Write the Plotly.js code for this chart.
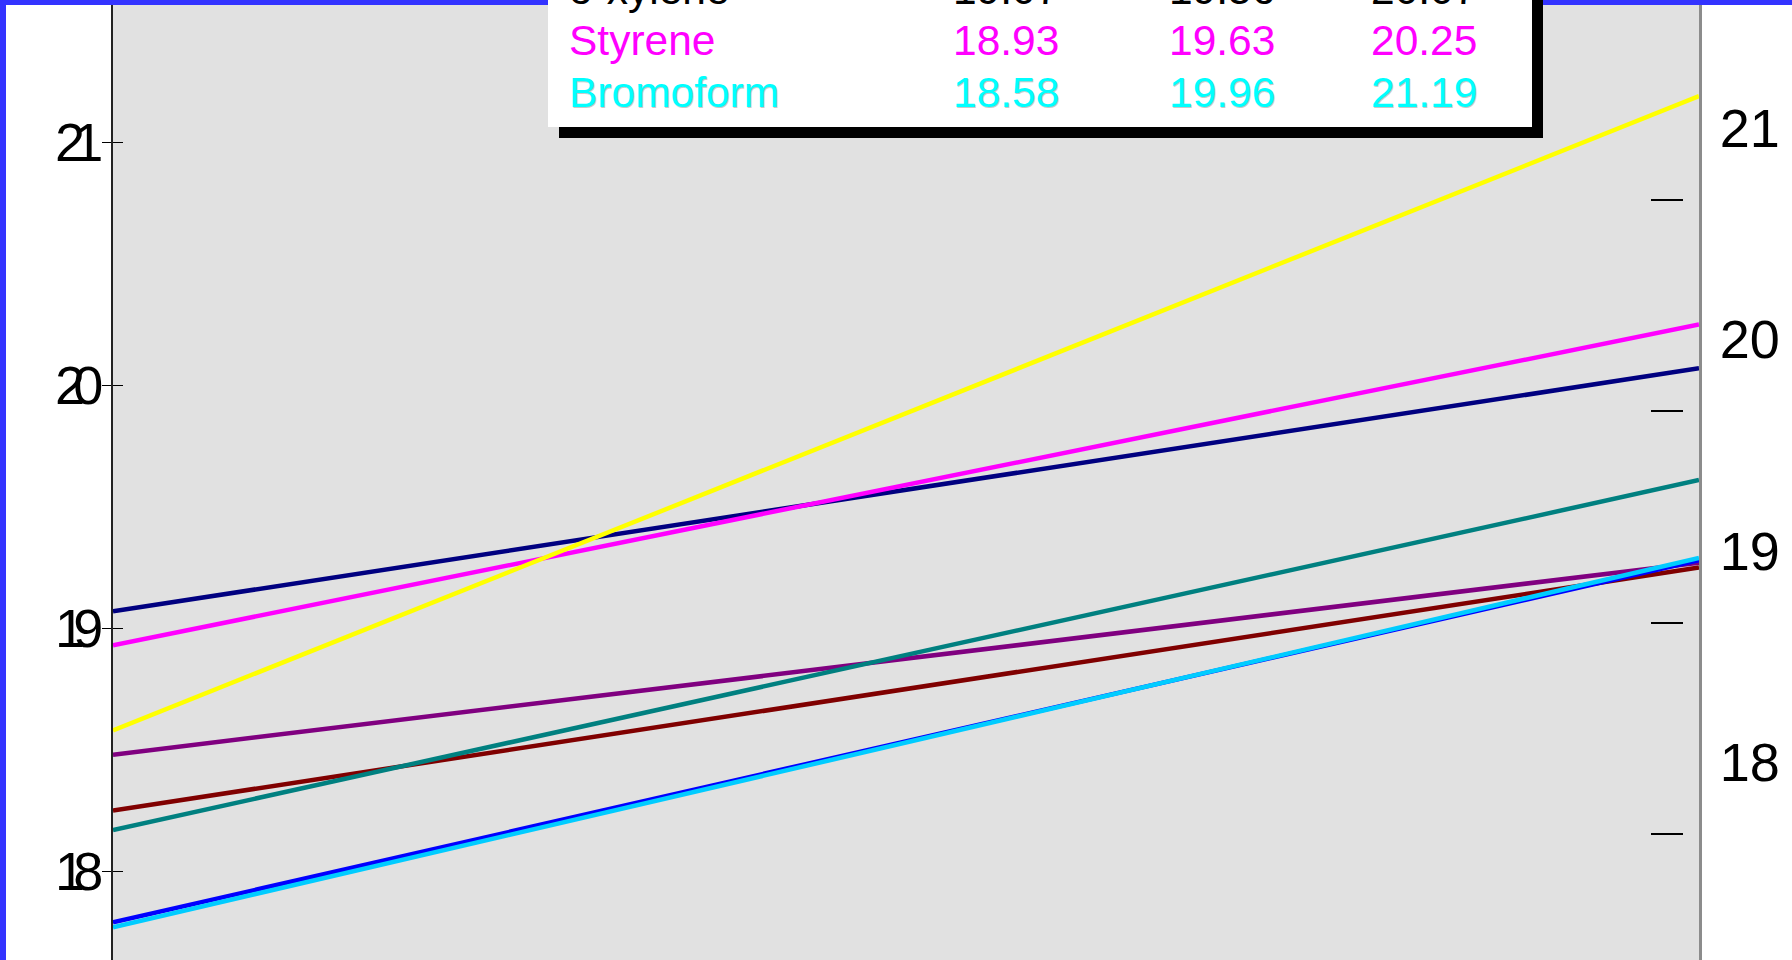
<!DOCTYPE html>
<html>
<head>
<meta charset="utf-8">
<script src="https://cdn.plot.ly/plotly-3.0.1.min.js"></script>
<style>
html, body { margin: 0; padding: 0; background: #ffffff; overflow: hidden; }
#chart { width: 1792px; height: 960px; }
#chart .ytick text { letter-spacing: -12px; }
</style>
</head>
<body>
<div id="chart"></div>
<script>
// ---- data ----
const xCategories = ['Start', 'End'];

const lineNames   = ['Series 1', 'Series 2', 'Series 3', 'Series 4', 'Series 5', 'o-xylene', 'Styrene', 'Bromoform'];
const startValues = [18.25, 18.48, 18.17, 17.79, 17.77, 19.07, 18.93, 18.58];
const endValues   = [19.25, 19.27, 19.61, 19.28, 19.29, 20.07, 20.25, 21.19];

const leftTickValues  = [18, 19, 20, 21];
const rightTickValues = [18, 19, 20, 21];

const tableNames = ['o-xylene', 'Styrene', 'Bromoform'];
const tableCol1  = ['19.07', '18.93', '18.58'];
const tableCol2  = ['19.56', '19.63', '19.96'];
const tableCol3  = ['20.07', '20.25', '21.19'];

// ---- styles ----
const lineColors  = ['#800000', '#800080', '#008080', '#0000FF', '#00CCFF', '#000080', '#FF00FF', '#FFFF00'];
const tableColors = ['#000000', '#FF00FF', '#00FFFF'];
const tableShadow = [false, false, true];

// ---- geometry helpers (pixel -> paper) ----
const W = 1792, H = 960;
const ML = 113, MR = 93, MT = 5, MB = 0;
const PW = W - ML - MR, PH = H - MT - MB;
const px = p => (p - ML) / PW;
const py = p => 1 - (p - MT) / PH;

const traces = lineNames.map((n, i) => ({
  type: 'scatter', mode: 'lines', name: n,
  x: xCategories, y: [startValues[i], endValues[i]],
  line: { color: lineColors[i], width: 4.5 },
  hoverinfo: 'name+y'
}));
traces.push({ x: [], y: [], yaxis: 'y2', showlegend: false });
traces.push({ x: [], y: [], yaxis: 'y3', showlegend: false });
traces.push({ x: [], y: [], yaxis: 'y4', showlegend: false });

const yRange  = [17.635, 21.565];
const y2Range = [17.063, 21.582];
const font = 'Liberation Sans, Arial, sans-serif';

const shapes = [
  // blue frame strips
  { type: 'rect', xref: 'paper', yref: 'paper', x0: px(0), x1: px(6), y0: py(H + 5), y1: py(-5), fillcolor: '#3333FF', line: { width: 0 }, layer: 'above' },
  { type: 'rect', xref: 'paper', yref: 'paper', x0: px(0), x1: px(W + 5), y0: py(5), y1: py(-5), fillcolor: '#3333FF', line: { width: 0 }, layer: 'above' },
  // table shadow and box
  { type: 'rect', xref: 'paper', yref: 'paper', x0: px(559), x1: px(1543), y0: py(138), y1: py(-20), fillcolor: '#000000', line: { width: 0 }, layer: 'above' },
  { type: 'rect', xref: 'paper', yref: 'paper', x0: px(548), x1: px(1532), y0: py(127), y1: py(-20), fillcolor: '#FFFFFF', line: { width: 0 }, layer: 'above' }
];

const annotations = [];
const baselines = [3.5, 55, 106.5];
const colX = [567, 951, 1167, 1369];
tableNames.forEach((n, i) => {
  const cells = [n, tableCol1[i], tableCol2[i], tableCol3[i]];
  cells.forEach((t, j) => {
    if (tableShadow[i]) {
      annotations.push({
        xref: 'paper', yref: 'paper', x: px(colX[j] + 1), y: py(baselines[i] - 14 + 1),
        xanchor: 'left', yanchor: 'middle', showarrow: false, text: t,
        font: { family: font, size: 42.5, color: '#C8C8C8' }
      });
    }
    annotations.push({
      xref: 'paper', yref: 'paper', x: px(colX[j]), y: py(baselines[i] - 14),
      xanchor: 'left', yanchor: 'middle', showarrow: false, text: t,
      font: { family: font, size: 42.5, color: tableColors[i] }
    });
  });
});

const layout = {
  width: W, height: H,
  margin: { l: ML, r: MR, t: MT, b: MB, pad: 0 },
  paper_bgcolor: '#FFFFFF', plot_bgcolor: '#E1E1E1',
  showlegend: false,
  xaxis: { type: 'category', range: [0, 1], showgrid: false, zeroline: false, showline: false, showticklabels: false, ticks: '' },
  yaxis: {
    range: yRange, tickvals: leftTickValues, ticktext: leftTickValues.map(String),
    ticks: 'outside', ticklen: 9, tickwidth: 1, tickcolor: '#000000',
    showline: true, linecolor: '#222222', linewidth: 2, showgrid: false, zeroline: false,
    tickfont: { family: font, size: 54, color: '#000000' }, ticklabelstandoff: 0
  },
  yaxis2: {
    overlaying: 'y', side: 'right', range: y2Range, tickvals: rightTickValues, ticktext: rightTickValues.map(String),
    ticks: '', showline: true, linecolor: '#8C8C8C', linewidth: 3, showgrid: false, zeroline: false,
    tickfont: { family: font, size: 54, color: '#000000' }, ticklabelstandoff: 7
  },
  yaxis3: {
    overlaying: 'y', side: 'right', anchor: 'free', position: px(1683), range: y2Range,
    tickmode: 'linear', tick0: 0.66, dtick: 1, ticks: 'inside', ticklen: 32, tickwidth: 2, tickcolor: '#000000',
    showticklabels: false, showline: false, showgrid: false, zeroline: false
  },
  yaxis4: {
    overlaying: 'y', side: 'left', range: yRange, tickvals: leftTickValues,
    ticks: 'inside', ticklen: 10, tickwidth: 1, tickcolor: '#000000',
    showticklabels: false, showline: false, showgrid: false, zeroline: false
  },
  shapes: shapes,
  annotations: annotations
};

Plotly.newPlot('chart', traces, layout, { displayModeBar: false, staticPlot: true });
</script>
</body>
</html>
